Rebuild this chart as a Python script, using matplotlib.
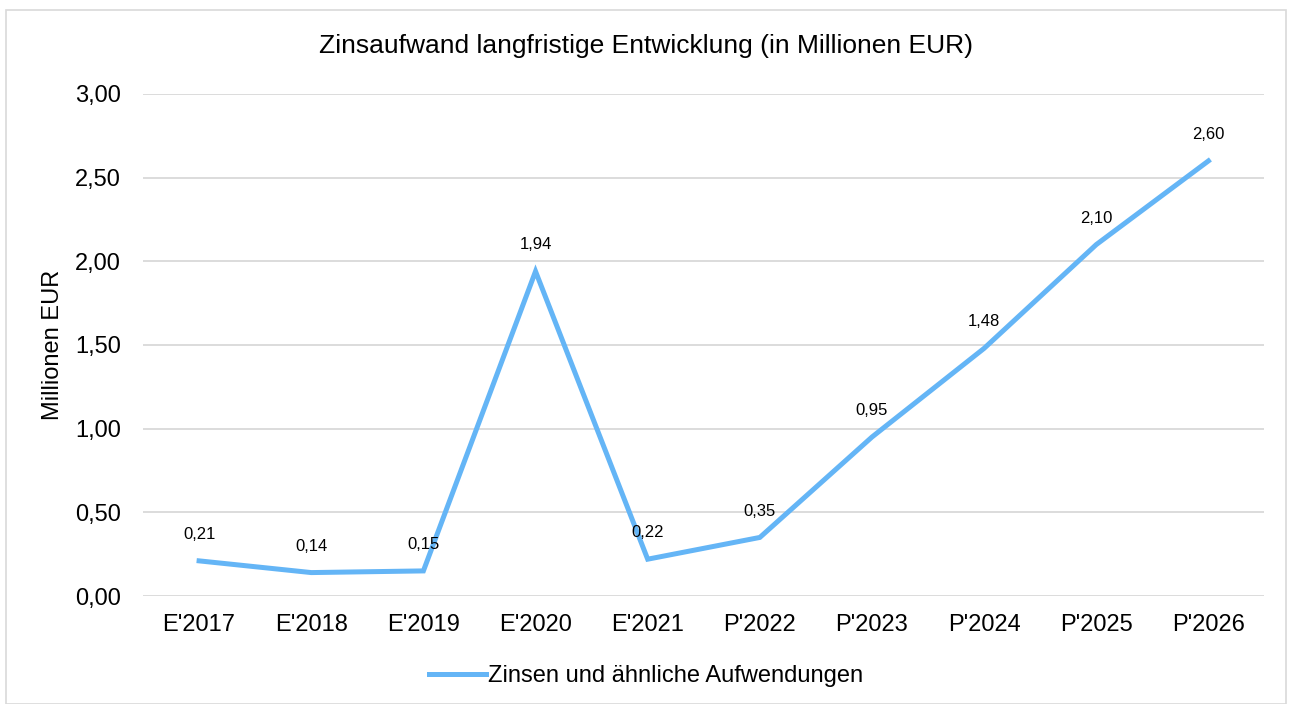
import matplotlib.pyplot as plt
from matplotlib.patches import Rectangle

plt.rcParams['font.family'] = ['Liberation Sans', 'DejaVu Sans']

# Daten
jahre = ["E'2017", "E'2018", "E'2019", "E'2020", "E'2021",
         "P'2022", "P'2023", "P'2024", "P'2025", "P'2026"]
zinsen = [0.21, 0.14, 0.15, 1.94, 0.22, 0.35, 0.95, 1.48, 2.10, 2.60]
y_ticks = [0.0, 0.5, 1.0, 1.5, 2.0, 2.5, 3.0]

farbe = '#64B5F6'
grid_farbe = '#D9D9D9'

fig = plt.figure(figsize=(12.92, 7.04), dpi=100)
ax = fig.add_axes([0.1107, 0.1534, 0.868, 0.7131])

x = list(range(len(jahre)))
ax.plot(x, zinsen, color=farbe, linewidth=3.6, solid_joinstyle='miter',
        label='Zinsen und ähnliche Aufwendungen')

for xi, wert in zip(x, zinsen):
    ax.annotate(f'{wert:.2f}'.replace('.', ','), (xi, wert),
                xytext=(0, 19), textcoords='offset points',
                ha='center', va='center', fontsize=12, color='#000000')

ax.set_xlim(-0.5, len(jahre) - 0.5)
ax.set_ylim(0, 3)
ax.set_yticks(y_ticks)
ax.set_yticklabels([f'{v:.2f}'.replace('.', ',') for v in y_ticks])
ax.set_xticks(x)
ax.set_xticklabels(jahre)
ax.tick_params(axis='both', length=0, labelsize=17, colors='#000000')
ax.tick_params(axis='y', pad=16)
ax.tick_params(axis='x', pad=13)
ax.grid(axis='y', color=grid_farbe, linewidth=1.3)
ax.set_axisbelow(True)
for s in ax.spines.values():
    s.set_visible(False)

ax.set_ylabel('Millionen EUR', fontsize=17, labelpad=8)
fig.text(0.5, 0.935, 'Zinsaufwand langfristige Entwicklung (in Millionen EUR)',
         ha='center', va='center', fontsize=19)

leg = fig.legend(loc='center', bbox_to_anchor=(0.5, 0.04), frameon=False,
                 fontsize=17, handlelength=2.4, handletextpad=0.1)

fig.patches.append(Rectangle((0.005, 0.0), 0.99, 0.986, transform=fig.transFigure,
                             fill=False, edgecolor=grid_farbe, linewidth=1.2))

fig.savefig('out.png', dpi=100)
